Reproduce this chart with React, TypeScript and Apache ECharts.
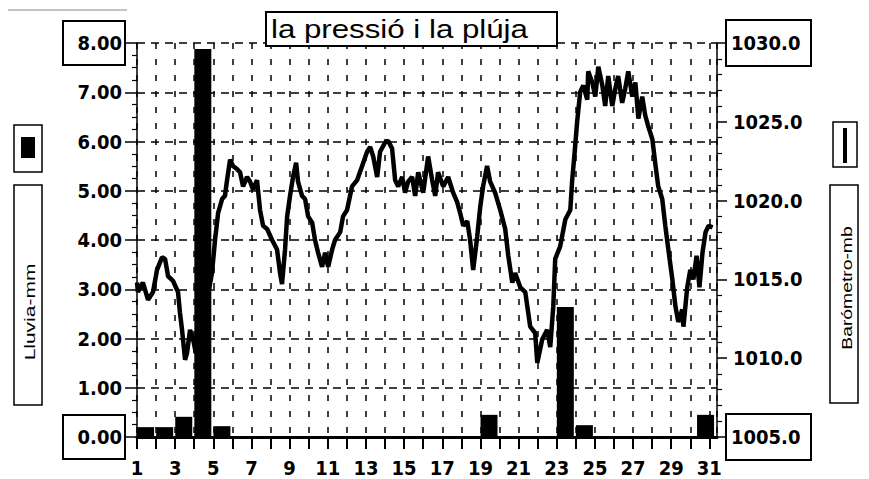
import React, { useEffect, useRef } from 'react';
import * as echarts from 'echarts';

const TITLE = 'la pressió i la plúja';
const LEFT_NAME = 'Lluvia-mm';
const RIGHT_NAME = 'Barómetro-mb';

const DAY_MIN = 1;
const DAY_MAX = 31.4;
const RAIN_MIN = 0;
const RAIN_MAX = 8;
const RAIN_STEP = 1;
const P_MIN = 1005;
const P_MAX = 1030;
const P_STEP = 5;

const RAIN_DAYS = [1, 2, 3, 4, 5, 6, 7, 8, 9, 10, 11, 12, 13, 14, 15, 16, 17, 18, 19, 20, 21, 22, 23, 24, 25, 26, 27, 28, 29, 30, 31];
const RAIN_MM = [0.2, 0.2, 0.41, 7.88, 0.22, 0, 0, 0, 0, 0, 0, 0, 0, 0, 0, 0, 0, 0, 0.45, 0, 0, 0, 2.64, 0.24, 0, 0, 0, 0, 0, 0, 0.45];

const P_DAY = [
  1.0, 1.05, 1.31, 1.58, 1.84, 2.05, 2.31, 2.47, 2.63, 2.89, 3.15, 3.25, 3.36, 3.52, 3.62, 3.78, 3.94, 4.09, 4.5,
  4.93, 5.09, 5.25, 5.46, 5.61, 5.72, 5.88, 6.03, 6.24, 6.4, 6.56, 6.77, 6.93, 7.08, 7.29, 7.45, 7.61, 7.82, 8.08,
  8.34, 8.5, 8.6, 8.76, 8.87, 9.02, 9.18, 9.34, 9.44, 9.65, 9.81, 9.97, 10.18, 10.33, 10.49, 10.7, 10.86, 11.02,
  11.23, 11.38, 11.65, 11.8, 12.01, 12.27, 12.54, 12.8, 13.06, 13.22, 13.38, 13.59, 13.74, 14.01, 14.16, 14.37,
  14.53, 14.69, 14.9, 15.05, 15.21, 15.42, 15.58, 15.74, 15.84, 16.0, 16.26, 16.47, 16.63, 16.78, 17.05, 17.31,
  17.57, 17.78, 17.94, 18.1, 18.31, 18.46, 18.62, 18.83, 18.99, 19.14, 19.35, 19.51, 19.77, 20.04, 20.3, 20.46,
  20.67, 20.82, 21.09, 21.35, 21.61, 21.87, 21.98, 22.24, 22.5, 22.66, 22.82, 22.92, 23.18, 23.45, 23.71, 23.81,
  23.92, 24.07, 24.23, 24.39, 24.6, 24.65, 24.86, 25.02, 25.18, 25.39, 25.54, 25.7, 25.91, 26.07, 26.22, 26.43,
  26.59, 26.75, 26.96, 27.12, 27.28, 27.48, 27.64, 27.8, 28.01, 28.16, 28.32, 28.53, 28.69, 28.85, 29.06, 29.22,
  29.37, 29.58, 29.64, 29.84, 30.0, 30.16, 30.33, 30.48, 30.64, 30.8, 30.96, 31.17,
];
const P_MB = [
  1014.8, 1014.2, 1014.8, 1013.7, 1014.2, 1015.6, 1016.4, 1016.3, 1015.2, 1014.9, 1014.2, 1012.9, 1011.8, 1009.9,
  1010.3, 1011.8, 1011.2, 1010.3, 1012.6,
  1015.4, 1017.5, 1019.2, 1020.1, 1020.3, 1021.3, 1022.6, 1022.2, 1022.0, 1021.8, 1020.9, 1021.5, 1021.2, 1020.7,
  1021.3, 1019.4, 1018.4, 1018.2, 1017.5,
  1016.9, 1015.4, 1014.7, 1016.9, 1019.0, 1020.3, 1021.5, 1022.4, 1021.2, 1020.3, 1020.1, 1019.0, 1018.6, 1017.5,
  1016.7, 1015.8, 1016.7, 1015.8,
  1016.9, 1017.5, 1018.0, 1019.0, 1019.4, 1020.9, 1021.3, 1022.2, 1023.1, 1023.4, 1022.8, 1021.5, 1023.1, 1023.7,
  1023.8, 1023.3,
  1021.3, 1020.9, 1021.5, 1020.5, 1021.2, 1021.5, 1020.3, 1021.8, 1021.3, 1020.5, 1022.8, 1021.3, 1020.3, 1021.8,
  1020.9, 1021.5,
  1020.5, 1019.9, 1019.2, 1018.4, 1018.7, 1017.5, 1015.6, 1017.7, 1019.6, 1020.9, 1022.2, 1021.2, 1020.5, 1019.4,
  1018.2, 1016.5,
  1014.8, 1015.4, 1014.5, 1014.2, 1012.0, 1011.6, 1009.7, 1011.2, 1011.8, 1010.7, 1013.3, 1016.3, 1017.1, 1018.8,
  1019.4, 1021.3,
  1022.8, 1025.0, 1026.9, 1027.3, 1026.4, 1028.2, 1027.5, 1026.6, 1028.5, 1027.3, 1026.0, 1027.9, 1026.0, 1027.1,
  1027.9, 1026.2,
  1027.1, 1028.2, 1026.6, 1027.5, 1025.2, 1026.6, 1025.4, 1024.7, 1023.9, 1022.4, 1020.9, 1020.1, 1018.4, 1016.9,
  1015.0, 1013.3,
  1012.3, 1013.1, 1012.0, 1014.5, 1015.6, 1015.0, 1016.5, 1014.5, 1016.7, 1018.0, 1018.4, 1018.3,
];

const NUM_FONT = '"Liberation Sans Narrow", "DejaVu Sans Condensed", "Arial Narrow", sans-serif';
const TXT_FONT = '"Liberation Sans", Arial, Helvetica, sans-serif';

export default function App() {
  const ref = useRef<HTMLDivElement>(null);

  useEffect(() => {
    if (!ref.current) return;
    const chart = echarts.init(ref.current, null, { renderer: 'svg' });

    const numStyle = {
      fontFamily: NUM_FONT,
      fontWeight: 'bold' as const,
      fontSize: 20,
      color: '#000',
    };

    const barData = RAIN_DAYS.map((d, i) => [Math.min(d + 0.45, DAY_MAX - 0.6), RAIN_MM[i]]).filter(
      (p) => p[1] > 0
    );
    const lineData = P_DAY.map((d, i) => [d, P_MB[i]]);

    const option: any = {
      animation: false,
      backgroundColor: '#fff',
      grid: { left: 137, right: 152, top: 43, bottom: 42, containLabel: false },
      xAxis: {
        type: 'value',
        min: DAY_MIN,
        max: DAY_MAX,
        interval: 1,
        axisLine: { show: true, onZero: false, lineStyle: { color: '#000', width: 3 } },
        axisTick: { show: true, length: 12, lineStyle: { color: '#000', width: 2 } },
        axisLabel: {
          ...numStyle,
          margin: 21,
          showMaxLabel: false,
          formatter: (v: number) => {
            const r = Math.round(v);
            return Math.abs(v - r) < 1e-6 && r % 2 === 1 ? String(r) : '';
          },
        },
        splitLine: { show: true, lineStyle: { color: '#000', width: 1.5, type: [6, 10] } },
      },
      yAxis: [
        {
          type: 'value',
          min: RAIN_MIN,
          max: RAIN_MAX,
          interval: RAIN_STEP,
          position: 'left',
          axisLine: { show: true, lineStyle: { color: '#000', width: 1.5 } },
          axisTick: { show: true, length: 12, lineStyle: { color: '#000', width: 1.5 } },
          minorTick: { show: true, splitNumber: 4, length: 5, lineStyle: { color: '#000', width: 1.2 } },
          axisLabel: {
            margin: 12,
            formatter: (v: number) => {
              const s = v.toFixed(2);
              return v === RAIN_MIN || v === RAIN_MAX ? `{box|${s}}` : `{n|${s}}`;
            },
            rich: {
              box: {
                ...numStyle,
                width: 56,
                height: 40,
                align: 'right',
                padding: [2, 3, 2, 3],
                borderColor: '#000',
                borderWidth: 2,
              },
              n: { ...numStyle, padding: [0, 3, 0, 0] },
            },
          },
          splitLine: { show: true, lineStyle: { color: '#000', width: 1.5, type: [8, 6] } },
        },
        {
          type: 'value',
          min: P_MIN,
          max: P_MAX,
          interval: P_STEP,
          position: 'right',
          axisLine: { show: true, lineStyle: { color: '#000', width: 1.5 } },
          axisTick: { show: true, length: 10, lineStyle: { color: '#000', width: 1.5 } },
          minorTick: { show: true, splitNumber: 5, length: 5, lineStyle: { color: '#000', width: 1.2 } },
          axisLabel: {
            margin: 9,
            formatter: (v: number) => {
              const s = v.toFixed(1);
              return v === P_MIN || v === P_MAX ? `{box|${s}}` : `{n|${s}}`;
            },
            rich: {
              box: {
                ...numStyle,
                width: 75,
                height: 42,
                align: 'left',
                padding: [2, 5, 2, 5],
                borderColor: '#000',
                borderWidth: 2,
              },
              n: { ...numStyle, padding: [0, 0, 0, 7] },
            },
          },
          splitLine: { show: false },
        },
      ],
      series: [
        {
          type: 'line',
          xAxisIndex: 0,
          yAxisIndex: 1,
          data: lineData,
          showSymbol: false,
          symbol: 'none',
          lineStyle: { color: '#000', width: 4.5 },
          z: 2,
        },
        {
          type: 'bar',
          xAxisIndex: 0,
          yAxisIndex: 0,
          data: barData,
          barWidth: 17,
          itemStyle: { color: '#000' },
          z: 3,
        },
      ],
      graphic: [
        { type: 'line', shape: { x1: 8, y1: 10, x2: 127, y2: 10 }, style: { stroke: '#888', lineWidth: 1 } },
        {
          type: 'rect',
          shape: { x: 266, y: 12, width: 291, height: 34 },
          style: { fill: '#fff', stroke: '#000', lineWidth: 2 },
          z: 10,
        },
        {
          type: 'text',
          x: 271,
          y: 29,
          scaleX: 1.25,
          style: { text: TITLE, font: `25px ${TXT_FONT}`, fill: '#000', textAlign: 'left', textVerticalAlign: 'middle' },
          z: 11,
        },
        {
          type: 'rect',
          shape: { x: 14, y: 125, width: 28, height: 47 },
          style: { fill: '#fff', stroke: '#000', lineWidth: 1.5 },
        },
        { type: 'rect', shape: { x: 21, y: 137, width: 14, height: 21 }, style: { fill: '#000' } },
        {
          type: 'rect',
          shape: { x: 14, y: 185, width: 28, height: 220 },
          style: { fill: '#fff', stroke: '#000', lineWidth: 1.5 },
        },
        {
          type: 'text',
          x: 30,
          y: 312,
          rotation: Math.PI / 2,
          scaleX: 1.5,
          style: { text: LEFT_NAME, font: `14px ${TXT_FONT}`, fill: '#000', textAlign: 'center', textVerticalAlign: 'middle' },
          z: 5,
        },
        {
          type: 'rect',
          shape: { x: 833, y: 122, width: 24, height: 45 },
          style: { fill: '#fff', stroke: '#000', lineWidth: 1.5 },
        },
        { type: 'line', shape: { x1: 845, y1: 128, x2: 845, y2: 163 }, style: { stroke: '#000', lineWidth: 4 } },
        {
          type: 'rect',
          shape: { x: 830, y: 185, width: 28, height: 218 },
          style: { fill: '#fff', stroke: '#000', lineWidth: 1.5 },
        },
        {
          type: 'text',
          x: 847,
          y: 288,
          rotation: Math.PI / 2,
          scaleX: 1.38,
          style: { text: RIGHT_NAME, font: `14px ${TXT_FONT}`, fill: '#000', textAlign: 'center', textVerticalAlign: 'middle' },
          z: 5,
        },
      ],
    };

    chart.setOption(option);
    return () => chart.dispose();
  }, []);

  return <div ref={ref} style={{ position: 'absolute', left: 0, top: 0, width: 869, height: 479 }} />;
}
